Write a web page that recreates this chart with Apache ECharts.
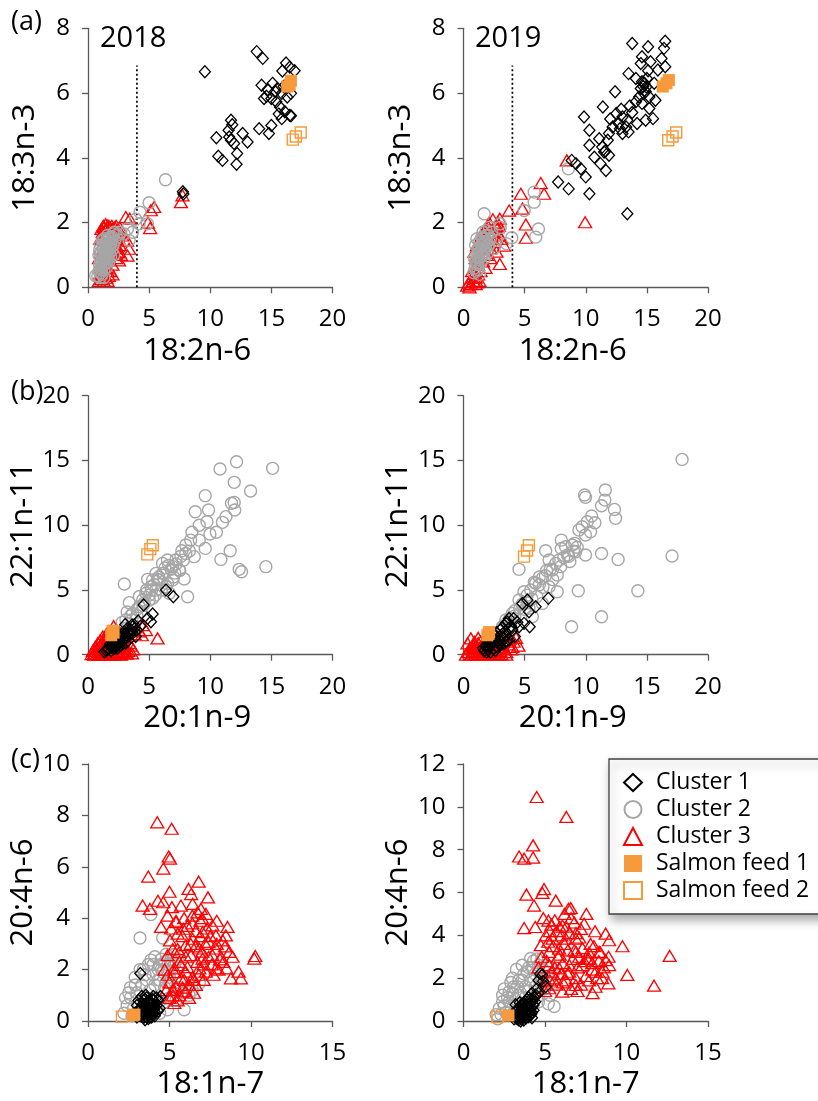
<!DOCTYPE html>
<html><head><meta charset="utf-8">
<script src="https://cdn.jsdelivr.net/npm/echarts@6/dist/echarts.min.js"></script>
<style>html,body{margin:0;padding:0;background:#fff}#c{width:818px;height:1101px}</style>
</head><body><div id="c"></div>
<script>
// ---------- DATA ----------
const seriesNames = ['Cluster 1','Cluster 2','Cluster 3','Salmon feed 1','Salmon feed 2'];
const panelLabels = ['(a)','(b)','(c)'];
const years = ['2018','2019'];
const xNames = ['18:2n-6','20:1n-9','18:1n-7'];
const yNames = ['18:3n-3','22:1n-11','20:4n-6'];
const xMax = [20,20,15];
const yMaxLeft = [8,20,10];
const yMaxRight = [8,20,12];
const xStep = [5,5,5];
const yStep = [2,5,2];
const cutoffX = 4, cutoffTop = 6.85;

// (a) 2018
const a18_c1 = [[9.56,6.66],[13.8,7.28],[14.3,7.07],[16.2,6.93],[15.9,6.68],[16.5,6.8],[16.9,6.69],[14.2,6.24],[14.7,6.11],[15.1,6.3],[15.5,6.14],[14.4,5.83],[15.0,5.83],[15.4,5.73],[15.85,5.99],[16.3,5.88],[16.6,5.99],[15.7,5.57],[16.1,5.42],[16.5,5.31],[16.6,5.3],[15.85,5.21],[15.0,5.0],[14.8,4.75],[14.0,4.9],[11.7,5.16],[11.8,5.02],[11.5,4.85],[10.5,4.62],[11.55,4.64],[11.7,4.54],[11.95,4.44],[12.65,4.75],[13.05,4.49],[12.2,4.13],[10.66,4.05],[11.0,3.92],[12.15,3.8],[7.76,2.95],[7.8,2.88],[15.3,6.05],[16.0,6.2],[14.6,5.9],[15.6,5.35]];
const a18_c2 = [[0.63,0.36],[0.8,0.35],[0.9,0.5],[0.95,0.7],[1.0,0.45],[1.0,0.9],[1.05,0.6],[1.1,1.1],[1.1,0.8],[1.15,0.4],[1.2,0.65],[1.2,1.0],[1.25,1.25],[1.3,0.85],[1.3,0.55],[1.35,1.1],[1.4,0.75],[1.4,1.35],[1.45,0.95],[1.5,1.2],[1.5,0.6],[1.55,1.45],[1.6,0.9],[1.6,1.1],[1.65,1.3],[1.7,0.8],[1.7,1.5],[1.75,1.05],[1.8,1.25],[1.85,0.95],[1.9,1.4],[1.95,1.15],[2.0,1.55],[2.05,1.3],[2.1,1.0],[2.2,1.45],[2.3,1.6],[1.0,1.3],[0.9,1.0],[1.2,1.45],[1.3,0.3],[1.0,0.3],[2.6,1.7],[2.95,1.65],[3.22,1.8],[3.36,1.45],[3.64,1.7],[3.9,2.1],[4.26,2.32],[4.86,1.96],[4.18,1.96],[5.0,2.61],[6.34,3.32],[1.05,0.75],[1.15,0.95],[1.25,0.7],[1.35,0.9],[1.45,1.15],[1.55,0.8],[1.65,1.0],[1.75,1.2],[1.85,1.35],[1.95,1.5],[2.05,1.65],[1.1,0.55],[1.2,0.85],[1.5,1.35],[1.8,1.55],[2.15,1.7],[1.35,1.5],[1.6,1.6],[0.95,1.15],[1.4,1.05]];
const a18_c3 = [[0.9,0.2],[1.0,0.35],[1.1,0.25],[1.2,0.4],[1.3,0.2],[1.4,0.35],[1.5,0.3],[1.6,0.5],[1.0,0.6],[0.9,0.9],[1.0,1.2],[1.1,1.5],[1.2,1.7],[1.3,1.85],[1.4,1.6],[1.5,1.8],[1.6,1.9],[1.7,1.7],[1.8,1.85],[1.9,1.6],[2.0,1.8],[2.1,1.7],[2.2,1.85],[2.3,1.6],[2.4,1.75],[2.5,1.5],[2.2,1.2],[2.3,0.9],[2.0,0.7],[1.8,0.5],[2.4,1.1],[2.54,1.08],[2.54,0.83],[1.7,0.35],[1.3,1.0],[1.5,0.9],[1.8,1.2],[1.2,0.8],[1.6,1.4],[1.9,1.0],[2.6,1.3],[2.8,1.6],[3.09,2.17],[3.42,2.12],[3.36,1.19],[3.23,0.98],[3.2,1.44],[5.41,2.48],[5.14,2.38],[5.08,1.83],[4.9,2.0],[7.6,2.63],[7.73,2.84],[1.0,1.5],[1.1,1.8],[1.25,1.9],[1.45,1.95],[1.7,1.9],[1.95,1.9],[2.3,1.9],[2.6,1.85],[2.2,1.5],[1.3,0.6],[1.6,0.2],[1.1,0.6],[2.0,0.4],[2.3,1.3],[2.7,1.0],[0.95,0.4],[1.5,0.6],[1.9,1.4]];
const a18_f1 = [[16.3,6.2],[16.6,6.38],[16.5,6.25]];
const a18_f2 = [[16.75,4.56],[17.0,4.66],[17.4,4.78]];

// (a) 2019
const a19_c1 = [[13.8,7.53],[15.1,7.43],[16.5,7.6],[16.4,7.38],[14.6,7.12],[15.3,6.97],[16.2,7.07],[14.5,6.91],[16.5,6.81],[15.9,6.71],[15.1,6.69],[13.5,6.6],[14.1,6.45],[14.6,6.35],[14.95,6.19],[14.5,6.14],[15.6,6.3],[14.75,5.99],[14.36,5.88],[15.2,5.88],[15.7,5.78],[14.1,5.73],[14.6,5.68],[15.2,5.52],[15.5,5.21],[14.9,5.16],[14.2,5.06],[12.4,6.04],[11.4,5.57],[9.86,5.26],[10.3,4.85],[12.5,5.37],[13.0,5.26],[13.4,5.16],[12.7,5.06],[12.2,4.95],[13.3,4.95],[13.5,4.8],[13.0,4.75],[11.9,4.75],[11.8,4.54],[11.1,4.59],[10.3,4.39],[11.35,4.33],[11.5,4.18],[11.9,4.08],[10.7,4.02],[11.2,3.82],[11.65,3.61],[9.2,3.82],[9.6,3.66],[10.0,3.41],[8.85,3.92],[7.74,3.25],[8.6,3.04],[10.3,2.89],[13.4,2.27],[14.8,6.3],[14.9,6.05],[15.0,6.45],[14.7,6.2],[13.8,5.4],[12.9,5.5],[12.0,5.2],[13.6,5.6],[12.8,4.9],[11.6,4.2]];
const a19_c2 = [[0.85,0.45],[0.95,0.6],[1.0,0.8],[1.05,0.5],[1.1,1.0],[1.15,0.7],[1.2,1.2],[1.2,0.55],[1.25,0.9],[1.3,1.4],[1.35,1.1],[1.4,0.75],[1.45,1.3],[1.5,1.55],[1.5,0.95],[1.55,1.15],[1.6,1.7],[1.65,1.35],[1.7,0.9],[1.75,1.5],[1.8,1.2],[1.85,1.75],[1.9,1.4],[1.95,1.05],[2.0,1.6],[2.05,1.3],[2.1,1.85],[2.2,1.5],[2.3,1.7],[1.0,1.3],[1.1,1.5],[0.9,0.9],[1.3,0.4],[1.69,2.27],[2.97,1.96],[3.0,1.85],[3.95,1.53],[3.5,1.35],[4.96,2.37],[5.78,2.63],[5.78,2.94],[6.13,1.8],[5.91,1.55],[8.58,3.66],[2.5,1.2],[2.7,1.45],[1.1,0.75],[1.3,1.2],[1.4,0.95],[1.6,1.5],[1.7,1.1],[1.9,1.6],[2.0,1.3],[1.2,0.95],[1.55,1.3],[1.8,1.4]];
const a19_c3 = [[0.3,0.05],[0.46,0.15],[0.6,0.1],[0.7,0.3],[0.8,0.2],[0.87,0.41],[0.9,0.6],[1.0,0.3],[1.1,0.15],[1.2,0.4],[1.0,0.9],[0.9,1.1],[1.1,1.3],[1.2,0.7],[1.3,1.0],[1.4,0.5],[1.5,1.2],[1.5,1.6],[1.6,0.8],[1.7,1.4],[1.8,1.8],[1.9,1.0],[2.0,1.5],[2.1,2.0],[2.2,1.2],[2.3,1.7],[2.4,2.1],[2.5,1.4],[2.6,1.9],[2.7,1.1],[2.8,2.0],[2.9,1.6],[2.97,2.12],[2.78,1.86],[2.97,0.72],[3.32,1.29],[3.1,1.5],[3.73,2.37],[4.69,2.89],[4.82,2.43],[5.1,1.94],[5.1,1.53],[6.32,3.22],[6.59,2.89],[8.45,3.92],[9.95,2.01],[1.3,0.2],[1.8,0.6],[2.2,0.9],[0.5,0.0],[0.7,0.5],[1.0,0.1],[1.4,1.4],[1.7,1.7],[2.0,1.9],[2.5,1.7],[2.7,1.5],[2.9,1.9]];
const a19_f1 = [[16.3,6.2],[16.6,6.3],[16.8,6.4]];
const a19_f2 = [[16.75,4.54],[17.1,4.66],[17.4,4.78]];

// (b) 2018
const b18_c1 = [[6.38,4.99],[6.98,4.48],[4.55,3.84],[5.29,3.14],[5.15,2.55],[4.88,2.81],[3.05,2.34],[3.79,2.29],[3.51,1.9],[1.34,0.23],[1.6,0.4],[1.88,0.57],[2.1,0.75],[2.29,0.88],[2.5,1.0],[2.83,1.13],[3.0,1.3],[3.24,1.39],[3.4,1.55],[3.65,1.65],[2.56,1.52],[2.97,1.78],[2.2,1.2],[2.7,0.7],[3.1,0.9],[3.3,1.1],[2.4,0.5],[4.0,1.9],[4.3,2.2],[3.2,2.0],[2.0,1.0],[1.9,0.3],[2.6,1.3],[3.9,1.4],[1.5,0.3],[1.7,0.45],[2.0,0.6],[2.3,0.75],[2.6,0.95],[2.9,1.2],[3.2,1.45],[3.5,1.7],[3.8,2.0],[1.8,0.8],[2.1,1.0],[2.4,1.2],[2.7,1.5],[3.0,1.6],[2.2,0.5],[2.5,0.8],[2.8,1.0],[3.3,1.8],[3.6,2.3],[4.1,2.6],[2.0,1.3],[2.4,1.6]];
const b18_c2 = [[2.97,5.46],[3.38,4.02],[12.15,14.9],[10.8,14.34],[15.1,14.39],[11.96,13.31],[9.59,12.28],[13.3,12.64],[8.77,11.04],[9.86,11.17],[9.1,10.0],[9.73,10.27],[11.96,11.76],[11.74,11.69],[12.0,11.17],[11.28,10.66],[11.0,10.22],[10.5,9.45],[9.97,9.32],[8.5,9.45],[9.1,8.85],[8.4,8.85],[8.0,8.47],[7.68,8.03],[9.59,8.21],[8.69,7.57],[8.0,7.82],[11.63,8.03],[10.87,7.36],[12.37,6.59],[12.56,6.41],[14.55,6.8],[8.15,4.48],[7.87,5.84],[7.19,7.31],[6.5,7.31],[6.1,7.05],[6.92,6.8],[7.46,6.54],[5.56,6.28],[4.88,5.82],[5.83,5.77],[6.38,5.25],[5.56,4.99],[4.74,4.74],[5.29,4.35],[4.2,3.71],[3.65,3.19],[3.1,2.68],[4.47,4.22],[6.65,4.74],[6.92,5.77],[6.1,6.28],[5.29,5.77],[5.15,5.25],[3.5,3.0],[4.0,3.5],[4.5,3.8],[5.0,4.2],[5.5,4.6],[6.0,5.0],[6.5,5.5],[7.0,6.0],[7.5,6.5],[5.2,5.0],[5.8,6.0],[6.2,6.3],[6.8,6.6],[7.2,7.0],[7.8,7.3],[4.2,4.5],[4.8,5.0],[3.2,3.3],[2.8,2.5],[3.0,2.0],[3.3,2.4],[3.6,2.7],[4.0,3.0],[4.3,3.3],[4.6,4.0],[5.0,4.6],[5.4,5.4],[5.7,5.8],[6.3,6.7],[6.6,6.9],[7.1,6.3],[7.6,7.6],[8.3,8.0]];
const b18_c3 = [[0.3,0.05],[0.5,0.1],[0.6,0.3],[0.7,0.05],[0.8,0.5],[0.9,0.2],[1.0,0.7],[1.0,0.05],[1.1,0.4],[1.2,0.9],[1.2,0.15],[1.3,0.6],[1.4,1.1],[1.4,0.05],[1.5,0.35],[1.6,0.8],[1.6,1.3],[1.7,0.1],[1.8,0.5],[1.8,1.0],[1.9,0.2],[2.0,0.7],[2.1,2.2],[2.1,0.1],[2.2,0.4],[2.3,1.2],[2.4,0.15],[2.5,0.6],[2.6,0.05],[2.7,0.3],[2.8,0.9],[2.9,0.2],[3.0,0.5],[3.2,0.1],[3.3,0.3],[3.5,0.7],[3.8,1.6],[4.2,1.8],[4.47,2.29],[4.74,1.9],[4.4,1.5],[5.69,1.26],[3.0,1.4],[2.6,1.7],[1.9,1.5],[3.6,0.1],[3.1,0.1],[0.4,0.3],[0.6,0.6],[0.8,0.9],[1.0,1.1],[1.2,1.4],[1.5,1.6],[1.7,1.8],[0.5,0.0],[0.9,0.0],[1.3,0.0],[1.8,0.0],[2.2,0.0],[2.7,0.0],[1.5,0.7],[1.1,0.25],[2.0,1.2],[2.4,1.0],[2.9,1.3],[3.4,0.9],[3.7,0.4]];
const b18_f1 = [[1.9,1.5],[2.1,1.7],[2.0,1.85]];
const b18_f2 = [[4.85,7.75],[5.1,8.15],[5.3,8.45]];

// (b) 2019
const b19_c1 = [[6.94,4.35],[4.82,3.96],[5.22,4.22],[5.9,3.71],[5.36,3.32],[5.41,2.16],[4.95,2.42],[3.73,2.8],[3.46,2.42],[1.82,0.62],[2.37,0.88],[2.91,1.13],[3.46,1.52],[4.0,1.9],[4.54,2.16],[2.78,0.62],[3.32,0.88],[3.73,1.13],[2.23,1.26],[2.0,0.4],[2.5,0.5],[3.0,0.7],[3.5,1.0],[4.2,1.4],[2.6,1.5],[3.0,1.9],[1.7,0.3],[2.2,0.2],[4.4,2.5],[3.9,2.2],[1.6,0.5],[1.9,0.7],[2.2,0.9],[2.5,1.1],[2.8,1.3],[3.1,1.5],[3.4,1.8],[3.7,2.0],[2.0,1.0],[2.4,1.3],[2.7,1.7],[3.2,2.1],[3.6,2.5],[4.1,2.8],[2.1,0.6],[2.9,0.9],[3.3,1.2],[1.9,0.2],[2.6,0.3]];
const b19_c2 = [[17.88,15.08],[11.6,12.72],[9.9,12.33],[9.98,12.15],[11.56,11.94],[11.29,11.5],[12.35,11.22],[12.44,10.53],[10.48,10.71],[10.75,10.19],[10.12,10.27],[9.71,9.88],[10.39,9.5],[9.44,9.63],[9.98,9.24],[8.0,8.85],[8.35,8.34],[8.9,8.47],[9.17,7.95],[9.98,7.7],[11.29,7.82],[12.65,7.36],[17.06,7.62],[6.72,8.03],[7.0,7.31],[7.54,7.05],[7.95,6.8],[7.27,6.54],[7.67,6.15],[6.45,5.9],[4.54,6.59],[5.9,5.51],[7.0,5.25],[7.67,4.86],[9.39,4.94],[14.26,4.94],[4.95,4.86],[4.54,4.22],[4.0,3.19],[3.46,2.68],[11.29,2.93],[8.84,2.16],[5.63,2.93],[6.45,3.96],[5.36,3.58],[3.18,2.16],[8.5,7.7],[9.0,8.0],[8.7,7.2],[8.2,7.5],[6.8,6.5],[6.2,6.0],[5.5,5.0],[6.0,4.5],[5.2,4.0],[4.2,3.4],[3.8,2.8],[6.5,5.2],[7.3,5.8],[5.8,5.6],[8.0,8.2],[9.3,8.3],[5.0,3.5],[4.6,3.6],[3.0,1.8],[3.3,2.2],[3.6,2.5],[4.2,3.0],[4.8,3.9],[5.2,4.6],[5.6,4.3],[6.2,5.4],[6.7,6.1],[7.1,6.6],[7.8,7.3],[8.6,7.6],[9.1,8.6]];
const b19_c3 = [[0.33,0.88],[0.6,1.26],[0.4,0.2],[0.5,0.5],[0.7,0.1],[0.8,0.7],[0.9,0.3],[1.0,0.05],[1.1,0.5],[1.2,0.9],[1.3,0.2],[1.4,0.6],[1.5,0.05],[1.6,0.4],[1.7,1.0],[1.8,0.15],[1.9,0.6],[2.0,0.3],[2.1,0.05],[2.2,0.5],[2.3,0.2],[2.4,0.8],[2.5,0.05],[2.6,0.35],[2.8,0.15],[2.9,0.6],[3.0,0.3],[3.1,0.05],[3.3,0.5],[3.5,0.2],[3.7,0.8],[3.9,0.4],[4.1,1.0],[4.3,1.3],[4.5,0.7],[2.8,1.1],[3.2,1.4],[1.2,1.3],[0.9,1.0],[0.2,0.0],[0.6,0.0],[1.2,0.0],[1.7,0.0],[2.3,0.0],[2.9,0.0],[3.5,0.0],[0.7,0.4],[1.0,0.7],[1.3,0.5],[1.6,0.8],[2.0,0.9],[2.5,1.0],[3.0,0.9],[3.6,1.1],[4.0,0.6],[1.4,1.0],[2.2,1.3]];
const b19_f1 = [[1.95,1.5],[2.1,1.75],[2.05,1.6]];
const b19_f2 = [[4.95,7.57],[5.2,8.05],[5.35,8.45]];

// (c) 2018
const c18_c1 = [[3.21,1.85],[2.9,0.3],[3.0,0.6],[3.2,0.2],[3.3,0.5],[3.4,0.8],[3.5,0.3],[3.6,0.6],[3.7,0.1],[3.8,0.4],[3.9,0.7],[4.0,0.3],[4.1,0.55],[4.2,0.9],[3.5,0.05],[3.3,0.95],[3.6,0.9],[4.3,0.4],[3.1,0.4],[4.0,0.8],[3.0,0.15],[3.1,0.8],[3.2,0.5],[3.3,0.2],[3.4,0.6],[3.5,0.85],[3.6,0.35],[3.7,0.75],[3.8,0.15],[3.9,0.5],[4.0,0.95],[4.1,0.2],[4.2,0.6],[4.3,0.8],[4.4,0.5],[3.45,0.45],[3.75,0.55],[3.95,0.25],[3.55,1.0],[4.45,0.95],[3.25,0.3],[3.35,0.65],[3.45,0.15],[3.55,0.5],[3.65,0.75],[3.75,0.3],[3.85,0.6],[3.95,0.85],[4.05,0.45],[4.15,0.7],[3.35,0.35],[3.65,0.45],[3.85,0.35],[4.05,0.6],[3.5,0.6],[3.8,0.7],[3.6,0.15],[3.9,0.15],[4.1,0.35],[3.4,0.3]];
const c18_c2 = [[3.86,4.14],[3.19,3.23],[4.58,3.23],[3.86,2.37],[4.37,2.18],[5.29,2.59],[5.9,0.44],[4.88,0.44],[6.83,1.47],[6.0,1.15],[5.4,0.82],[2.2,0.3],[2.4,0.6],[2.6,0.9],[2.8,0.5],[3.0,1.1],[3.1,0.7],[3.3,1.4],[3.5,0.9],[3.6,1.6],[3.8,1.2],[4.0,1.8],[4.1,1.4],[4.3,2.0],[4.4,1.6],[4.6,1.9],[4.7,1.3],[4.9,2.2],[5.0,1.7],[5.2,2.1],[4.5,2.4],[4.1,2.5],[4.8,2.6],[3.4,2.0],[2.9,1.4],[2.5,1.1],[5.5,1.9],[4.2,0.9],[4.6,0.7],[3.2,0.3],[5.6,1.3],[6.4,1.2],[2.3,0.9],[2.6,1.3],[2.9,1.7],[3.2,2.0],[3.5,1.8],[3.7,2.2],[4.0,2.2],[4.3,1.6],[4.5,2.0],[4.7,2.3],[4.9,1.9],[5.1,2.4],[5.3,2.2],[5.5,2.4],[4.8,1.5],[2.7,0.2],[5.0,0.9],[5.7,1.1],[6.2,1.0],[4.4,0.3]];
const c18_c3 = [[4.25,7.73],[5.13,7.48],[4.95,6.4],[5.03,6.32],[4.62,5.93],[3.7,5.62],[6.79,5.42],[6.17,5.14],[6.33,4.94],[5.0,5.03],[7.36,4.81],[4.29,4.68],[4.62,4.62],[3.35,4.49],[3.8,4.36],[5.15,4.43],[5.7,4.49],[6.42,4.56],[6.93,4.36],[7.23,4.17],[6.72,4.23],[4.88,4.1],[4.48,3.66],[5.4,3.85],[5.85,3.59],[7.64,3.72],[8.56,3.66],[8.46,3.33],[8.26,3.14],[7.85,3.33],[7.03,3.46],[6.42,3.2],[7.4,3.08],[6.83,2.82],[7.85,2.82],[8.67,2.69],[8.87,2.5],[8.15,2.5],[7.64,2.56],[7.03,2.43],[6.32,2.56],[6.0,2.95],[5.6,2.69],[5.03,3.14],[4.88,2.56],[10.2,2.43],[10.26,2.53],[8.5,2.05],[8.77,1.66],[9.38,1.66],[9.24,1.92],[7.85,2.05],[7.23,1.92],[6.83,2.05],[6.42,1.72],[6.0,1.92],[5.7,1.66],[5.4,1.34],[6.0,1.15],[6.62,1.4],[5.7,2.18],[5.29,2.05],[5.2,1.0],[5.5,0.8],[5.8,1.3],[6.2,0.9],[6.5,1.6],[5.0,1.5],[5.3,1.9],[5.6,2.3],[6.1,2.1],[6.6,2.9],[6.9,3.3],[7.3,3.6],[7.6,2.2],[8.0,2.0],[7.1,1.6],[6.4,3.8],[5.9,4.0],[5.5,3.4],[5.2,2.8],[7.9,3.9],[7.0,4.0],[4.8,1.2],[4.7,2.0],[5.0,0.9],[5.3,0.7],[5.6,1.0],[5.9,1.6],[6.2,1.4],[6.5,1.1],[6.8,1.8],[7.1,2.2],[7.4,2.5],[7.7,1.8],[8.1,2.4],[8.4,2.9],[6.0,2.5],[6.3,3.0],[6.6,3.5],[6.9,3.9],[7.2,3.0],[7.5,3.3],[5.5,2.8],[5.8,3.3],[6.1,3.7],[6.4,4.1],[5.4,3.9],[5.1,3.6],[4.9,1.8],[5.2,1.2],[7.9,3.0],[8.3,2.3],[6.7,2.3],[7.0,2.7]];
const c18_f1 = [[2.78,0.22],[2.85,0.25]];
const c18_f2 = [[2.08,0.17]];

// (c) 2019
const c19_c1 = [[4.84,2.15],[5.04,1.6],[4.43,1.22],[3.2,0.76],[3.51,0.0],[3.0,0.3],[3.2,0.15],[3.4,0.4],[3.5,0.7],[3.6,0.2],[3.7,0.5],[3.8,0.9],[3.9,0.3],[4.0,0.6],[4.1,1.0],[4.2,0.4],[4.3,0.75],[3.3,0.55],[3.7,0.05],[4.5,1.5],[4.6,1.9],[4.7,2.2],[4.88,1.85],[3.1,0.1],[3.3,0.2],[3.5,0.35],[3.6,0.55],[3.8,0.2],[3.9,0.65],[4.0,0.35],[4.1,0.8],[4.2,0.15],[4.3,0.5],[4.4,0.9],[3.4,0.05],[3.7,0.85],[4.0,1.1],[4.2,1.3],[3.55,0.1],[3.85,0.45],[4.15,0.6],[3.25,0.45],[4.35,1.1],[4.6,1.3],[3.35,0.3],[3.45,0.6],[3.55,0.45],[3.65,0.3],[3.75,0.65],[3.85,0.15],[3.95,0.5],[4.05,0.8],[4.15,0.3],[3.5,0.15],[3.8,0.35],[4.0,0.2],[3.6,0.8],[3.9,1.0],[4.25,0.95],[3.7,0.25],[4.1,0.45],[3.45,0.85],[3.3,0.1],[4.0,0.5]];
const c19_c2 = [[3.25,2.41],[4.12,2.92],[2.8,1.37],[5.56,0.68],[2.0,0.3],[2.2,0.6],[2.4,0.9],[2.6,0.4],[2.7,1.1],[2.9,0.7],[3.1,1.6],[3.2,1.0],[3.4,1.9],[3.5,1.3],[3.7,2.2],[3.8,1.6],[4.0,2.5],[4.1,1.9],[4.3,2.8],[4.4,2.2],[4.6,2.6],[4.7,1.8],[4.9,2.4],[5.0,1.5],[5.2,2.1],[5.3,1.2],[4.5,1.1],[3.9,0.8],[3.0,2.0],[3.6,2.6],[4.8,2.9],[5.4,1.8],[2.5,1.5],[2.1,0.1],[2.3,0.3],[2.5,0.7],[2.8,0.9],[3.0,1.3],[3.3,1.6],[3.6,1.9],[3.9,2.3],[4.2,2.5],[4.5,2.9],[4.0,1.4],[4.4,1.6],[4.8,2.1],[5.1,2.6],[5.3,2.5],[5.5,2.2],[3.4,1.2],[3.8,1.1],[4.6,0.9],[5.2,0.8],[2.4,1.2],[2.9,1.8]];
const c19_c3 = [[4.49,10.46],[6.31,9.53],[4.27,8.2],[3.41,7.68],[3.72,7.58],[4.27,7.63],[4.94,6.16],[4.84,5.98],[3.86,5.9],[4.33,5.39],[5.66,5.62],[6.58,5.27],[6.44,5.24],[7.54,5.0],[3.72,4.34],[4.4,4.39],[5.21,4.69],[7.4,4.54],[8.07,4.19],[8.72,4.08],[8.93,3.77],[9.75,3.49],[12.65,3.04],[10.05,2.15],[11.69,1.65],[8.89,1.76],[7.92,1.3],[8.72,2.84],[8.32,3.23],[7.7,2.92],[6.9,3.23],[6.27,3.85],[5.87,3.38],[5.46,3.85],[5.25,3.23],[4.74,3.54],[5.05,4.0],[6.07,4.46],[6.89,3.85],[7.3,2.61],[8.11,2.3],[6.48,2.3],[5.66,1.99],[6.89,1.68],[6.07,1.37],[5.25,1.53],[8.93,2.61],[8.52,2.3],[5.87,2.46],[5.25,2.61],[5.3,4.2],[5.6,4.7],[5.9,4.4],[6.2,5.0],[6.5,4.1],[6.8,4.6],[7.1,3.9],[5.5,3.5],[5.8,3.0],[6.1,2.7],[6.4,3.3],[6.7,2.9],[7.0,2.5],[7.3,3.4],[7.6,2.9],[7.9,2.4],[8.2,2.0],[5.1,2.8],[5.4,2.3],[5.7,1.7],[6.0,2.2],[6.3,1.9],[6.6,1.5],[6.9,2.0],[7.2,1.7],[7.5,2.1],[5.0,1.9],[4.8,3.0],[4.6,2.5],[7.8,3.6],[8.4,3.2],[5.0,1.4],[5.3,1.9],[5.6,2.5],[5.9,3.1],[6.2,3.6],[6.5,2.6],[6.8,3.3],[7.1,3.0],[7.4,2.8],[7.7,3.2],[8.0,3.5],[8.3,2.8],[8.6,2.5],[8.9,3.0],[6.0,4.0],[6.3,4.4],[6.6,4.8],[5.7,4.2],[5.4,4.5],[6.1,1.8],[6.4,2.2],[7.0,1.4],[7.7,1.9],[8.1,1.6],[5.2,3.7],[4.9,4.8],[7.2,4.3],[6.9,4.1],[7.9,2.7],[8.5,2.0]];
const c19_f1 = [[2.76,0.26]];
const c19_f2 = [[2.08,0.19]];

// ---------- BUILD ----------
const FONT = 'Open Sans';
const ORANGE = '#F79A3B';
const STY = {
  'Cluster 1': {symbol:'diamond', size:[11,12], fill:'rgba(0,0,0,0)', stroke:'#000000', bw:1.3},
  'Cluster 2': {symbol:'circle', size:12, fill:'rgba(0,0,0,0)', stroke:'#A6A6A6', bw:1.4},
  'Cluster 3': {symbol:'triangle', size:[13,11], fill:'rgba(0,0,0,0)', stroke:'#FF0000', bw:1.3},
  'Salmon feed 1': {symbol:'rect', size:12, fill:ORANGE, stroke:ORANGE, bw:0},
  'Salmon feed 2': {symbol:'rect', size:11, fill:'rgba(0,0,0,0)', stroke:ORANGE, bw:1.4}
};
const panels = [
  {row:0,col:0,d:[a18_c1,a18_c2,a18_c3,a18_f1,a18_f2], z:[4,3,2,5,5]},
  {row:0,col:1,d:[a19_c1,a19_c2,a19_c3,a19_f1,a19_f2], z:[4,3,2,5,5]},
  {row:1,col:0,d:[b18_c1,b18_c2,b18_c3,b18_f1,b18_f2], z:[4,2,3,5,5]},
  {row:1,col:1,d:[b19_c1,b19_c2,b19_c3,b19_f1,b19_f2], z:[4,2,3,5,5]},
  {row:2,col:0,d:[c18_c1,c18_c2,c18_c3,c18_f1,c18_f2], z:[4,2,3,5,5]},
  {row:2,col:1,d:[c19_c1,c19_c2,c19_c3,c19_f1,c19_f2], z:[4,2,3,5,5]}
];
const gridLeft = [88, 463.5];
const gridTop = [28.3, 395.7, 764];
const gridW = 244.5, gridH = 259;
const nameShift = [26, 26, 0];

const grid=[], xAxis=[], yAxis=[], series=[];
const axisLineStyle = {color:'#595959', width:1.3};
panels.forEach((p,i)=>{
  grid.push({left:gridLeft[p.col], top:gridTop[p.row], width:gridW, height:gridH, containLabel:false});
  xAxis.push({type:'value', gridIndex:i, min:0, max:xMax[p.row], interval:xStep[p.row],
    name:xNames[p.row], nameLocation:'middle', nameGap:48,
    nameTextStyle:{fontSize:31, color:'#000', fontFamily:FONT, padding:[0,nameShift[p.row],0,0]},
    axisLine:{show:true, onZero:false, lineStyle:axisLineStyle},
    axisTick:{show:true, inside:false, length:6, lineStyle:axisLineStyle},
    axisLabel:{fontSize:24, color:'#000', fontFamily:FONT, margin:20},
    splitLine:{show:false}});
  yAxis.push({type:'value', gridIndex:i, min:0, max:(p.col===0?yMaxLeft:yMaxRight)[p.row], interval:yStep[p.row],
    name:yNames[p.row], nameLocation:'middle', nameGap:47, nameRotate:90,
    nameTextStyle:{fontSize:31, color:'#000', fontFamily:FONT},
    axisLine:{show:true, onZero:false, lineStyle:axisLineStyle},
    axisTick:{show:true, inside:false, length:6, lineStyle:axisLineStyle},
    axisLabel:{fontSize:24, color:'#000', fontFamily:FONT, margin:18},
    splitLine:{show:false}});
  seriesNames.forEach((nm,k)=>{
    const s = STY[nm];
    series.push({type:'scatter', name:nm, xAxisIndex:i, yAxisIndex:i, data:p.d[k],
      symbol:s.symbol, symbolSize:s.size, z:p.z[k], silent:true,
      itemStyle:{color:s.fill, borderColor:s.stroke, borderWidth:s.bw, opacity:1},
      emphasis:{disabled:true}});
  });
  if (p.row===0) {
    series.push({type:'line', xAxisIndex:i, yAxisIndex:i, data:[[cutoffX,0],[cutoffX,cutoffTop]],
      symbol:'none', silent:true, z:1, lineStyle:{color:'#000', width:1.7, type:[2,2.5]}});
  }
});

const title = [
  {text:panelLabels[0], left:11, top:9},
  {text:panelLabels[1], left:11, top:379},
  {text:panelLabels[2], left:11, top:747},
  {text:years[0], left:100, top:24, big:true},
  {text:years[1], left:475, top:24, big:true}
].map(t=>({text:t.text, left:t.left, top:t.top, padding:0,
   textStyle:{fontSize:t.big?29:27, fontWeight:'normal', color:'#000', fontFamily:FONT}}));

const chart = echarts.init(document.getElementById('c'), null, {renderer:'canvas'});
chart.setOption({
  animation:false,
  backgroundColor:'#fff',
  title, grid, xAxis, yAxis, series,
  legend:{data:seriesNames, orient:'vertical', left:609, top:759, z:20,
    itemWidth:18, itemHeight:17, itemGap:4, selectedMode:false,
    padding:[12,30,12,14], backgroundColor:'#fff', borderColor:'#404040', borderWidth:1.3, borderRadius:0,
    shadowBlur:10, shadowColor:'rgba(0,0,0,0.35)', shadowOffsetX:3, shadowOffsetY:5,
    textStyle:{fontSize:23, color:'#000', fontFamily:FONT, lineHeight:22, padding:[0,0,0,9]}}
});
</script></body></html>
